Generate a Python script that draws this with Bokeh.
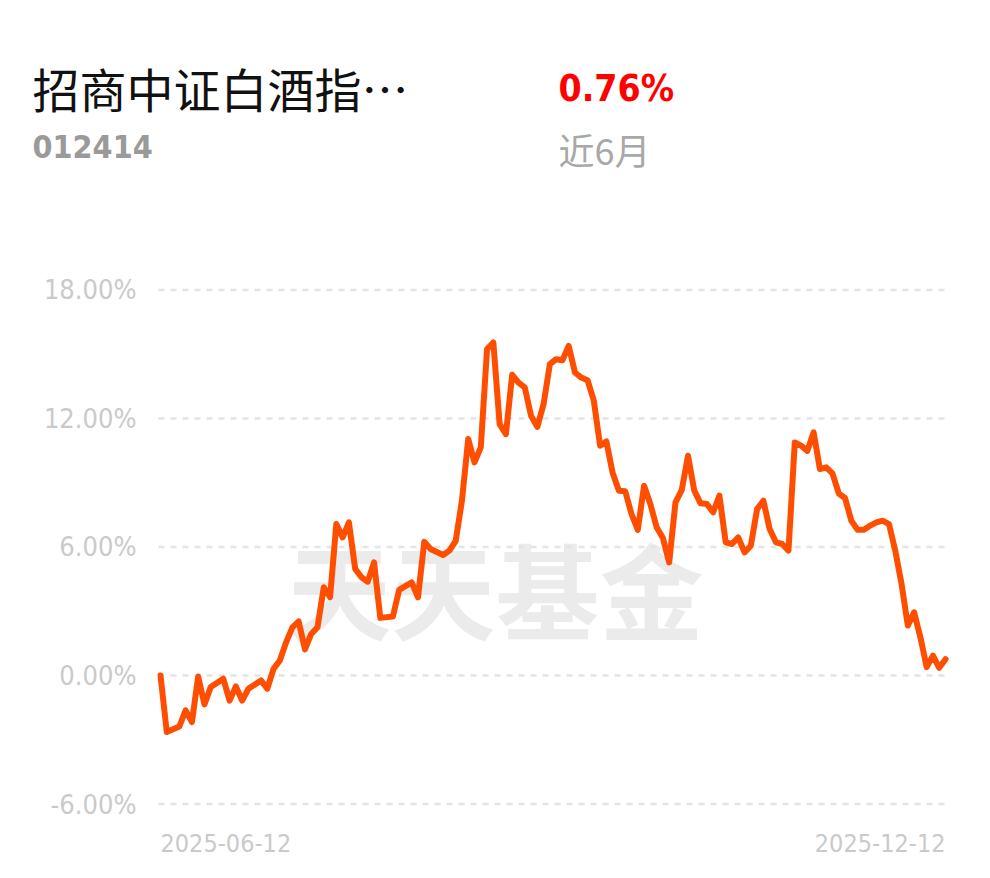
from bokeh.plotting import figure
from bokeh.models import Range1d, Label, ColumnDataSource
from bokeh.core.properties import value
from bokeh.embed import file_html
from bokeh.resources import INLINE

# ---- data (trading-day index since 2025-06-12, cumulative return %) ----
day_idx = [0, 1, 3, 4, 5, 6, 7, 8, 10, 11, 12, 13, 14, 16, 17, 18, 19, 20, 21, 22,
           23, 24, 25, 26, 27, 28, 29, 30, 31, 32, 33, 34, 35, 37, 38, 40, 41, 42, 43, 45,
           46, 47, 48, 49, 50, 51, 52, 53, 54, 55, 56, 57, 58, 59, 60, 61, 62, 63, 64, 65,
           66, 67, 68, 69, 70, 71, 72, 73, 74, 75, 76, 77, 78, 79, 80, 81, 82, 83, 84, 85,
           86, 87, 88, 89, 90, 91, 92, 93, 94, 95, 96, 97, 98, 99, 100, 101, 102, 103, 104, 105,
           106, 107, 108, 109, 110, 111, 112, 113, 114, 115, 116, 117, 118, 119, 120, 121, 122, 123, 124, 125]
returns = [0.00, -2.64, -2.38, -1.63, -2.18, -0.05, -1.35, -0.54, -0.15, -1.17, -0.51, -1.17, -0.62, -0.23, -0.62, 0.31, 0.70, 1.55, 2.25, 2.53,
           1.22, 1.94, 2.25, 4.12, 3.66, 7.07, 6.45, 7.15, 4.98, 4.59, 4.38, 5.28, 2.69, 2.75, 4.00, 4.35, 3.65, 6.24, 5.91, 5.63,
           5.83, 6.28, 8.16, 11.04, 9.95, 10.65, 15.24, 15.55, 11.74, 11.27, 14.04, 13.68, 13.45, 12.13, 11.61, 12.67, 14.54, 14.77, 14.72, 15.39,
           14.15, 13.91, 13.79, 12.83, 10.73, 10.93, 9.45, 8.63, 8.60, 7.54, 6.80, 8.86, 8.01, 6.92, 6.42, 5.28, 8.08, 8.66, 10.26, 8.63,
           8.04, 8.01, 7.62, 8.40, 6.22, 6.14, 6.45, 5.75, 6.06, 7.77, 8.16, 6.84, 6.22, 6.14, 5.83, 10.88, 10.73, 10.49, 11.35, 9.64,
           9.72, 9.44, 8.50, 8.29, 7.23, 6.80, 6.80, 7.00, 7.15, 7.23, 7.07, 5.83, 4.28, 2.33, 2.95, 1.79, 0.39, 0.93, 0.36, 0.76]

y_ticks = [-6, 0, 6, 12, 18]
y_tick_labels = ["-6.00%", "0.00%", "6.00%", "12.00%", "18.00%"]
x_tick_labels = ["2025-06-12", "2025-12-12"]

fund_name = "招商中证白酒指…"
fund_code = "012414"
period_return = "0.76%"
period_label = "近6月"
watermark = "天天基金"

# ---- geometry: the frame fills the whole canvas; helpers map canvas pixels to data ----
W, H = 974, 862
PX_PER_DAY = 6.28
PX_PER_PCT = 21.417
X_AT_0 = 160.0   # canvas x of first day
Y_AT_0 = 675.0   # canvas y of 0 %
X0 = -X_AT_0 / PX_PER_DAY
X1 = X0 + W / PX_PER_DAY
Y1 = Y_AT_0 / PX_PER_PCT
Y0 = Y1 - H / PX_PER_PCT


def dx(px):
    return X0 + px / PX_PER_DAY


def dy(py):
    return Y1 - py / PX_PER_PCT


p = figure(width=W, height=H, output_backend="svg", toolbar_location=None,
           x_range=Range1d(X0, X1), y_range=Range1d(Y0, Y1), min_border=0)
p.outline_line_color = None
p.background_fill_color = "white"
p.border_fill_color = "white"
p.xaxis.visible = False
p.yaxis.visible = False
p.xgrid.visible = False
p.ygrid.visible = False

AXIS_FONT = value("DejaVu Sans Condensed")

# watermark
p.add_layout(Label(x=dx(495), y=dy(587), text=watermark, text_font="Noto Sans CJK SC",
                   text_font_style="bold", text_font_size="104px", text_color="#ebebeb",
                   text_align="center", text_baseline="middle", level="underlay"))

# horizontal dashed grid lines at the y ticks
gsrc = ColumnDataSource(dict(y=y_ticks, x0=[dx(158)] * len(y_ticks), x1=[dx(948)] * len(y_ticks)))
p.segment(x0="x0", y0="y", x1="x1", y1="y", source=gsrc, line_color="#e4e4e4",
          line_width=2.5, line_dash="6 6")

# y tick labels
ysrc = ColumnDataSource(dict(y=y_ticks, label=y_tick_labels, x=[dx(136)] * len(y_ticks)))
p.text(x="x", y="y", text="label", source=ysrc, text_font=AXIS_FONT, text_font_size="27px",
       text_color="#cacaca", text_align="right", text_baseline="middle")

# x tick labels (first and last day)
xsrc = ColumnDataSource(dict(x=[day_idx[0], day_idx[-1]], y=[dy(842)] * 2, label=x_tick_labels,
                             align=["left", "right"]))
p.text(x="x", y="y", text="label", source=xsrc, text_font=AXIS_FONT, text_font_size="25px",
       text_color="#cacaca", text_align="align", text_baseline="middle")

p.line(day_idx, returns, line_color="#ff4e00", line_width=6, line_join="round", line_cap="round")

# header
p.add_layout(Label(x=dx(32), y=dy(87), text=fund_name, text_font="Noto Sans CJK SC",
                   text_font_size="47px", text_color="#111111", text_align="left", text_baseline="middle"))
p.add_layout(Label(x=dx(32), y=dy(146), text=fund_code, text_font="DejaVu Sans Condensed",
                   text_font_style="bold", text_font_size="32px", text_color="#9a9a9a",
                   text_align="left", text_baseline="middle"))
p.add_layout(Label(x=dx(558), y=dy(88), text=period_return, text_font="DejaVu Sans Condensed",
                   text_font_style="bold", text_font_size="37px", text_color="#ff0000",
                   text_align="left", text_baseline="middle"))
p.add_layout(Label(x=dx(558), y=dy(148), text=period_label, text_font="Noto Sans CJK SC",
                   text_font_size="36px", text_color="#a8a8a8", text_align="left", text_baseline="middle"))

open("out.html", "w").write(file_html(p, INLINE))
